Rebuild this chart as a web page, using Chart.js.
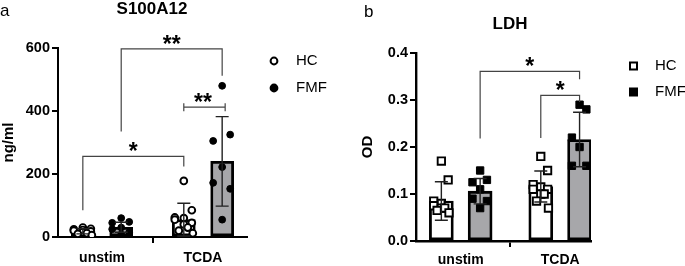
<!DOCTYPE html>
<html><head><meta charset="utf-8">
<script src="https://cdn.jsdelivr.net/npm/chart.js@4.4.0/dist/chart.umd.min.js"></script>
<style>
html,body{margin:0;padding:0;background:#fff;overflow:hidden}
#wrap{position:relative;width:685px;height:266px;background:#fff}
canvas{position:absolute;top:0}
</style></head><body>
<div id="wrap">
<canvas id="c1" style="left:0;width:340px;height:266px"></canvas>
<canvas id="c2" style="left:340px;width:345px;height:266px"></canvas>
</div>
<script>
// ---------- data ----------
const categories = ['unstim', 'TCDA'];
const groups = ['HC', 'FMF'];

// panel a : S100A12 (ng/ml)
const s100Ticks = [0, 200, 400, 600];
const s100HCMean = [18, 55];
const s100HCSd = [8, 52];
const s100FMFMean = [31, 240];
const s100FMFSd = [16, 142];
const s100HCUnstim = [30, 26, 24, 22, 20, 18, 15, 12, 10, 6];
const s100HCTcda = [178, 85, 62, 60, 55, 45, 40, 30, 20, 12];
const s100FMFUnstim = [60, 48, 45, 30, 25, 15, 8];
const s100FMFTcda = [480, 325, 305, 222, 172, 153, 55];

// panel b : LDH (OD)
const ldhTicks = [0, 0.1, 0.2, 0.3, 0.4];
const ldhHCMean = [0.085, 0.116];
const ldhHCSd = [0.041, 0.033];
const ldhFMFMean = [0.106, 0.216];
const ldhFMFSd = [0.027, 0.058];
const ldhHCUnstim = [0.17, 0.13, 0.085, 0.08, 0.075, 0.075, 0.07, 0.07, 0.065, 0.06];
const ldhHCTcda = [0.18, 0.15, 0.12, 0.115, 0.11, 0.11, 0.1, 0.1, 0.085, 0.07];
const ldhFMFUnstim = [0.15, 0.13, 0.125, 0.11, 0.09, 0.085, 0.07];
const ldhFMFTcda = [0.29, 0.28, 0.22, 0.2, 0.16, 0.16];

// significance annotations: [category, group] endpoints
const s100Sig = [
  {a: [0, 0], b: [1, 0], top: 256, legA: 85, legB: 224, label: '*'},
  {a: [0, 1], b: [1, 1], top: 597, legA: 335, legB: 512, label: '**'},
  {a: [1, 0], b: [1, 1], top: 412, label: '**', caps: true}
];
const ldhSig = [
  {a: [0, 1], b: [1, 1], top: 0.361, legA: 0.218, legB: 0.344, label: '*'},
  {a: [1, 0], b: [1, 1], top: 0.310, legA: 0.219, legB: 0.296, label: '*'}
];

// ---------- drawing ----------
const FONT = '"Liberation Sans", Arial, Helvetica, sans-serif';
const jitterPx = [0, 8, -9, 0, -9, 8, 0, 4, -5, 9];
const BAR_GREY = '#a7a7aa';

function makePanel(id, o) {
  const cv = document.getElementById(id);
  cv.width = o.W; cv.height = o.H;
  const pxPerUnit = (o.area.right - o.area.left) / (o.xMax - o.xMin);
  const gx = (c, g) => c + (g === 0 ? -o.gOff : o.gOff);
  const pts = (arrs, g) => {
    const out = [];
    arrs.forEach((arr, c) => arr.forEach((v, i) => out.push({x: gx(c, g) + o.jit * jitterPx[i % jitterPx.length] / pxPerUnit, y: v})));
    return out;
  };
  const barData = (means, g) => means.map((m, c) => ({x: gx(c, g), y: m}));

  const overlay = {
    id: 'overlay',
    afterDatasetsDraw(chart) {
      const ctx = chart.ctx, xs = chart.scales.x, ys = chart.scales.y;
      ctx.save();
      // error bars
      [[o.means[0], o.sds[0], 0], [o.means[1], o.sds[1], 1]].forEach(([m, s, g]) => {
        m.forEach((mv, c) => {
          const x = xs.getPixelForValue(gx(c, g));
          const y1 = ys.getPixelForValue(mv + s[c]);
          const y0 = ys.getPixelForValue(Math.max(0, mv - s[c]));
          ctx.strokeStyle = '#222'; ctx.lineWidth = 1.4;
          ctx.beginPath();
          ctx.moveTo(x, y0); ctx.lineTo(x, y1);
          ctx.moveTo(x - 6.5, y1); ctx.lineTo(x + 6.5, y1);
          ctx.moveTo(x - 6.5, y0); ctx.lineTo(x + 6.5, y0);
          ctx.stroke();
        });
      });
      // significance brackets
      ctx.strokeStyle = '#444'; ctx.lineWidth = 1.2;
      o.sig.forEach(b => {
        const xa = xs.getPixelForValue(gx(b.a[0], b.a[1]));
        const xb = xs.getPixelForValue(gx(b.b[0], b.b[1]));
        const yt = ys.getPixelForValue(b.top);
        ctx.beginPath();
        if (b.caps) {
          ctx.moveTo(xa, yt); ctx.lineTo(xb + 3, yt);
          ctx.moveTo(xa, yt - 4); ctx.lineTo(xa, yt + 4);
          ctx.moveTo(xb + 3, yt - 4); ctx.lineTo(xb + 3, yt + 4);
        } else {
          ctx.moveTo(xa, ys.getPixelForValue(b.legA));
          ctx.lineTo(xa, yt); ctx.lineTo(xb, yt);
          ctx.lineTo(xb, ys.getPixelForValue(b.legB));
        }
        ctx.stroke();
        ctx.fillStyle = '#000';
        ctx.font = 'bold 23px ' + FONT;
        ctx.textAlign = 'center'; ctx.textBaseline = 'alphabetic';
        ctx.fillText(b.label, (xa + xb) / 2, yt + 3);
      });
      ctx.restore();
    },
    afterDraw(chart) {
      const ctx = chart.ctx;
      ctx.save();
      ctx.fillStyle = '#000';
      ctx.textBaseline = 'middle';
      // panel letter
      ctx.font = '17px ' + FONT; ctx.textAlign = 'left';
      ctx.fillText(o.letter, o.letterPos[0], o.letterPos[1]);
      // title
      ctx.font = 'bold 17px ' + FONT; ctx.textAlign = 'center';
      ctx.fillText(o.title, o.titlePos[0], o.titlePos[1]);
      // legend
      ctx.font = '15px ' + FONT; ctx.textAlign = 'left';
      groups.forEach((g, i) => {
        const x = o.legend.x, y = o.legend.y[i];
        ctx.lineWidth = 2; ctx.strokeStyle = '#000';
        ctx.fillStyle = i === 0 ? '#fff' : '#000';
        ctx.beginPath();
        if (o.square) ctx.rect(x - 3.5, y - 3.5, 7, 7);
        else ctx.arc(x, y, 3.4, 0, Math.PI * 2);
        ctx.fill(); ctx.stroke();
        ctx.fillStyle = '#000';
        ctx.fillText(g, o.legend.tx, y);
      });
      ctx.restore();
    }
  };

  const ptStyle = o.square ? 'rect' : 'circle';
  const ptR = o.square ? 5.2 : 3.4;

  return new Chart(cv, {
    data: {
      datasets: [
        {type: 'scatter', label: 'HC pts', data: pts(o.points[0], 0), pointStyle: ptStyle, pointRadius: ptR,
         backgroundColor: '#fff', borderColor: '#000', borderWidth: 1.9, order: 0},
        {type: 'scatter', label: 'FMF pts', data: pts(o.points[1], 1), pointStyle: ptStyle, pointRadius: ptR,
         backgroundColor: '#000', borderColor: '#000', borderWidth: 1, order: 0},
        {type: 'bar', label: 'HC', data: barData(o.means[0], 0), backgroundColor: '#fff', borderColor: '#000',
         borderWidth: 2.8, borderSkipped: false, barThickness: o.barW, grouped: false, order: 1},
        {type: 'bar', label: 'FMF', data: barData(o.means[1], 1), backgroundColor: BAR_GREY, borderColor: '#000',
         borderWidth: 2.8, borderSkipped: false, barThickness: o.barW, grouped: false, order: 1}
      ]
    },
    options: {
      responsive: false, animation: false, devicePixelRatio: 1,
      layout: {padding: {left: 0, top: o.area.top, right: o.W - o.area.right, bottom: 0}},
      plugins: {legend: {display: false}, tooltip: {enabled: false}, title: {display: false}},
      scales: {
        x: {
          type: 'linear', min: o.xMin, max: o.xMax, offset: false,
          afterBuildTicks: s => { s.ticks = categories.map((_, i) => ({value: i})); },
          afterFit: s => { s.height = o.H - o.area.bottom; },
          ticks: {callback: v => categories[v] ?? '', color: '#000', font: {family: FONT, size: 14, weight: 'bold'}, padding: o.xPad, maxRotation: 0, autoSkip: false},
          grid: {display: true, drawOnChartArea: false, drawTicks: true, tickLength: 6, color: '#000', lineWidth: 2},
          border: {display: true, color: '#000', width: o.axisW}
        },
        y: {
          type: 'linear', min: o.yTicks[0], max: o.yTicks[o.yTicks.length - 1],
          afterBuildTicks: s => { s.ticks = o.yTicks.map(v => ({value: v})); },
          afterFit: s => { s.width = o.area.left; },
          ticks: {callback: v => o.fmt(v), color: '#000', font: {family: FONT, size: 14.5, weight: 'bold'}, padding: 2},
          grid: {display: true, drawOnChartArea: false, drawTicks: true, tickLength: 6, color: '#000', lineWidth: 2},
          border: {display: true, color: '#000', width: o.axisW},
          title: {display: true, text: o.yTitle, color: '#000', font: {family: FONT, size: 15, weight: 'bold'}, padding: {top: o.yTitlePad, bottom: 0}}
        }
      }
    },
    plugins: [overlay]
  });
}

makePanel('c1', {
  W: 340, H: 266,
  area: {left: 58, right: 247, top: 48, bottom: 237},
  xMin: -0.436, xMax: 1.436, gOff: 0.19, barW: 23, axisW: 2, xPad: 7, jit: 1,
  yTicks: s100Ticks, fmt: v => String(v), yTitle: 'ng/ml', yTitlePad: 0,
  means: [s100HCMean, s100FMFMean], sds: [s100HCSd, s100FMFSd],
  points: [[s100HCUnstim, s100HCTcda], [s100FMFUnstim, s100FMFTcda]],
  sig: s100Sig, square: false,
  letter: 'a', letterPos: [0, 11], title: 'S100A12', titlePos: [152, 9],
  legend: {x: 274, tx: 296, y: [61, 88]}
});

makePanel('c2', {
  W: 345, H: 266,
  area: {left: 76, right: 251, top: 53, bottom: 241},
  xMin: -0.45, xMax: 1.31, gOff: 0.195, barW: 24, axisW: 2.4, xPad: 5, jit: 0.85,
  yTicks: ldhTicks, fmt: v => v.toFixed(1), yTitle: 'OD', yTitlePad: 19,
  means: [ldhHCMean, ldhFMFMean], sds: [ldhHCSd, ldhFMFSd],
  points: [[ldhHCUnstim, ldhHCTcda], [ldhFMFUnstim, ldhFMFTcda]],
  sig: ldhSig, square: true,
  letter: 'b', letterPos: [24, 12], title: 'LDH', titlePos: [170, 24],
  legend: {x: 293.5, tx: 315, y: [66, 92]}
});
</script>
</body></html>
